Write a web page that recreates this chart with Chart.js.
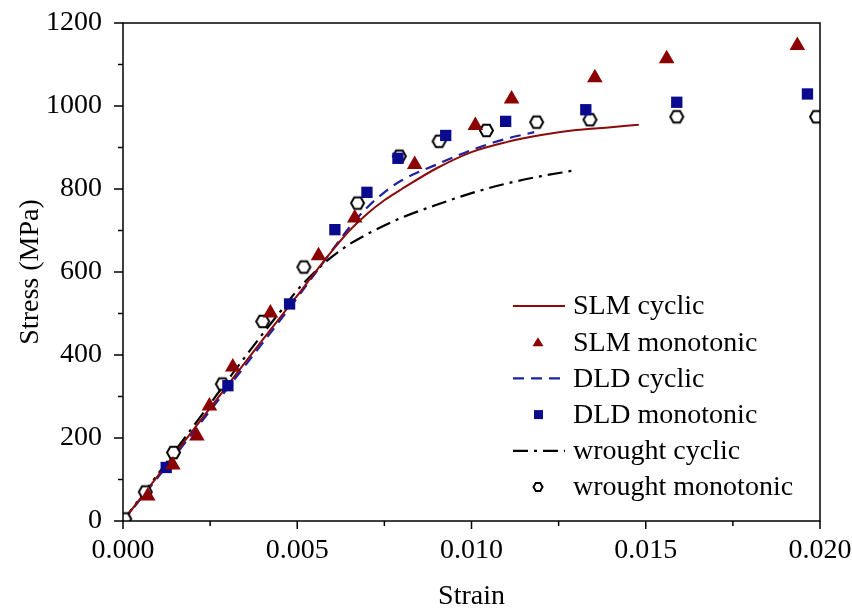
<!DOCTYPE html>
<html>
<head>
<meta charset="utf-8">
<title>Stress-strain curves</title>
<script src="https://cdn.jsdelivr.net/npm/chart.js@4.4.1/dist/chart.umd.min.js"></script>
<style>
  html, body { margin: 0; padding: 0; background: #fff; }
  #wrap { width: 852px; height: 613px; }
</style>
</head>
<body>
<div id="wrap"><canvas id="chart" width="852" height="613"></canvas></div>
<script>
// cyclic curves (strain, stress in MPa)
const slmCyclicStrain = [0, 0.001, 0.002, 0.003, 0.004, 0.005, 0.0055, 0.006, 0.0065, 0.007, 0.0075, 0.008, 0.009, 0.010, 0.011, 0.012, 0.013, 0.014, 0.0148];
const slmCyclicStress = [0, 109, 218, 327, 436, 543, 598, 651, 700, 740, 773, 800, 850, 889, 913, 930, 942, 949, 955];

const dldCyclicStrain = [0, 0.001, 0.002, 0.003, 0.004, 0.005, 0.0055, 0.006, 0.0065, 0.007, 0.0075, 0.008, 0.009, 0.010, 0.011, 0.0118];
const dldCyclicStress = [0, 105, 212, 320, 428, 538, 595, 652, 708, 755, 792, 821, 859, 894, 921, 937];

const wroughtCyclicStrain = [0, 0.001, 0.002, 0.003, 0.004, 0.0045, 0.005, 0.0055, 0.006, 0.0065, 0.007, 0.0075, 0.008, 0.009, 0.010, 0.011, 0.012, 0.0129];
const wroughtCyclicStress = [0, 113, 226, 339, 450, 503, 556, 600, 637, 667, 691, 712, 731, 762, 790, 813, 831, 844];

// monotonic test points
const slmMonoStrain = [0.00071, 0.00143, 0.00212, 0.00248, 0.00315, 0.00423, 0.00561, 0.00665, 0.00837, 0.01011, 0.01115, 0.01354, 0.0156, 0.01935];
const slmMonoStress = [60, 135, 205, 277, 371, 501, 639, 730, 859, 953, 1017, 1068, 1114, 1146];

const dldMonoStrain = [0.00124, 0.00301, 0.00478, 0.00608, 0.0070, 0.00789, 0.00926, 0.01098, 0.01328, 0.01589, 0.01964];
const dldMonoStress = [129, 326, 523, 702, 792, 874, 929, 963, 991, 1009, 1029];

const wroughtMonoStrain = [0.00005, 0.00064, 0.00145, 0.00285, 0.00401, 0.00519, 0.00673, 0.00793, 0.00907, 0.01043, 0.01187, 0.0134, 0.01589, 0.0199];
const wroughtMonoStress = [5, 70, 165, 330, 481, 612, 766, 879, 915, 941, 961, 967, 974, 974];

// axis ticks
const xMajorTicks = [0, 0.005, 0.010, 0.015, 0.020];
const yMajorTicks = [0, 200, 400, 600, 800, 1000, 1200];

const FONT = "'Liberation Serif', 'Times New Roman', serif";
const RED = "#8b0a0a";
const BLUE = "#0a0a8f";

function toPoints(xs, ys) {
  return xs.map((x, i) => ({ x: x, y: ys[i] }));
}

// hexagon marker (flat top)
function hexPath(ctx, x, y, r) {
  ctx.beginPath();
  for (let i = 0; i < 6; i++) {
    const a = Math.PI / 3 * i;
    const px = x + r * Math.cos(a);
    const py = y + r * Math.sin(a);
    if (i === 0) ctx.moveTo(px, py); else ctx.lineTo(px, py);
  }
  ctx.closePath();
}

function makeHex(r, lw) {
  const c = document.createElement("canvas");
  const s = Math.ceil(2 * r + lw + 2);
  c.width = s;
  c.height = s;
  const g = c.getContext("2d");
  hexPath(g, s / 2, s / 2, r);
  g.fillStyle = "#fff";
  g.fill();
  g.lineWidth = lw;
  g.strokeStyle = "#000";
  g.stroke();
  return c;
}
const hexImg = makeHex(6.5, 2);

// frame box and outward ticks (major + minor)
const frameTicks = {
  id: "frameTicks",
  afterDraw(chart) {
    const { ctx, chartArea: a } = chart;
    const xs = chart.scales.x;
    const ys = chart.scales.y;
    ctx.save();
    ctx.strokeStyle = "#000";
    ctx.lineWidth = 1.5;
    ctx.strokeRect(a.left, a.top, a.right - a.left, a.bottom - a.top);
    ctx.beginPath();
    xMajorTicks.forEach((v, i) => {
      const px = xs.getPixelForValue(v);
      ctx.moveTo(px, a.bottom);
      ctx.lineTo(px, a.bottom + 8);
      if (i < xMajorTicks.length - 1) {
        const mx = xs.getPixelForValue((v + xMajorTicks[i + 1]) / 2);
        ctx.moveTo(mx, a.bottom);
        ctx.lineTo(mx, a.bottom + 5);
      }
    });
    yMajorTicks.forEach((v, i) => {
      const py = ys.getPixelForValue(v);
      ctx.moveTo(a.left, py);
      ctx.lineTo(a.left - 9, py);
      if (i < yMajorTicks.length - 1) {
        const my = ys.getPixelForValue((v + yMajorTicks[i + 1]) / 2);
        ctx.moveTo(a.left, my);
        ctx.lineTo(a.left - 5, my);
      }
    });
    ctx.stroke();
    ctx.restore();
  }
};

// legend drawn inside the plot, lower right
const innerLegend = {
  id: "innerLegend",
  afterDraw(chart) {
    const ctx = chart.ctx;
    const x0 = 513, x1 = 565, tx = 573, y0 = 306, dy = 36.2;
    ctx.save();
    ctx.font = "28px " + FONT;
    ctx.textBaseline = "middle";
    ctx.fillStyle = "#000";
    chart.data.datasets.forEach((ds, i) => {
      const y = y0 + i * dy;
      const cx = (x0 + x1) / 2;
      if (ds.showLine) {
        ctx.save();
        ctx.strokeStyle = ds.borderColor;
        ctx.lineWidth = ds.borderWidth;
        ctx.setLineDash(ds.borderDash || []);
        ctx.beginPath();
        ctx.moveTo(x0, y);
        ctx.lineTo(x1, y);
        ctx.stroke();
        ctx.restore();
      } else if (ds.pointStyle === "triangle") {
        ctx.save();
        ctx.fillStyle = ds.pointBackgroundColor;
        ctx.beginPath();
        ctx.moveTo(cx - 1, y - 5);
        ctx.lineTo(cx + 4.5, y + 4);
        ctx.lineTo(cx - 6.5, y + 4);
        ctx.closePath();
        ctx.fill();
        ctx.restore();
      } else if (ds.pointStyle === "rect") {
        ctx.save();
        ctx.fillStyle = ds.pointBackgroundColor;
        ctx.fillRect(cx - 5, y - 4.5, 9, 9);
        ctx.restore();
      } else {
        ctx.save();
        hexPath(ctx, cx - 1, y, 4.5);
        ctx.fillStyle = "#fff";
        ctx.fill();
        ctx.lineWidth = 2;
        ctx.strokeStyle = "#000";
        ctx.stroke();
        ctx.restore();
      }
      ctx.fillText(ds.label, tx, y + 1);
    });
    ctx.restore();
  }
};

const lineBase = { showLine: true, pointRadius: 0, cubicInterpolationMode: "monotone", fill: false, order: 2 };
const markBase = { showLine: false, pointBorderWidth: 0, clip: 0, order: 1 };

new Chart(document.getElementById("chart"), {
  type: "scatter",
  data: {
    datasets: [
      Object.assign({}, lineBase, {
        label: "SLM cyclic",
        data: toPoints(slmCyclicStrain, slmCyclicStress),
        borderColor: RED, borderWidth: 2
      }),
      Object.assign({}, markBase, {
        label: "SLM monotonic",
        data: toPoints(slmMonoStrain, slmMonoStress),
        pointStyle: "triangle", pointRadius: 9,
        pointBackgroundColor: "#8b0000", pointBorderColor: "#8b0000"
      }),
      Object.assign({}, lineBase, {
        label: "DLD cyclic",
        data: toPoints(dldCyclicStrain, dldCyclicStress),
        borderColor: "#1c22a0", borderWidth: 2.2, borderDash: [11, 7]
      }),
      Object.assign({}, markBase, {
        label: "DLD monotonic",
        data: toPoints(dldMonoStrain, dldMonoStress),
        pointStyle: "rect", pointRadius: 8,
        pointBackgroundColor: BLUE, pointBorderColor: BLUE
      }),
      Object.assign({}, lineBase, {
        label: "wrought cyclic",
        data: toPoints(wroughtCyclicStrain, wroughtCyclicStress),
        borderColor: "#000", borderWidth: 2.2, borderDash: [15, 6, 3, 6]
      }),
      Object.assign({}, markBase, {
        label: "wrought monotonic",
        data: toPoints(wroughtMonoStrain, wroughtMonoStress),
        pointStyle: hexImg, pointRadius: 7
      })
    ]
  },
  options: {
    responsive: false,
    animation: false,
    devicePixelRatio: 1,
    layout: { padding: { left: 0, top: 23, right: 32, bottom: 0 } },
    plugins: {
      legend: { display: false },
      tooltip: { enabled: false }
    },
    scales: {
      x: {
        type: "linear",
        min: 0,
        max: 0.02,
        grid: { display: false },
        border: { display: false },
        ticks: {
          stepSize: 0.005,
          padding: 5,
          color: "#000",
          font: { family: FONT, size: 28 },
          maxRotation: 0,
          callback: (v) => Number(v).toFixed(3)
        },
        title: {
          display: true,
          text: "Strain",
          color: "#000",
          font: { family: FONT, size: 28 },
          padding: { top: 0, bottom: 0 }
        },
        afterFit(scale) {
          scale.height = 92;
          scale.paddingLeft = 0;
          scale.paddingRight = 0;
        }
      },
      y: {
        type: "linear",
        min: 0,
        max: 1200,
        grid: { display: false },
        border: { display: false },
        ticks: {
          stepSize: 200,
          padding: 13,
          color: "#000",
          font: { family: FONT, size: 28 },
          callback: (v) => String(v)
        },
        title: {
          display: true,
          text: "Stress (MPa)",
          color: "#000",
          font: { family: FONT, size: 28 },
          padding: { top: 14, bottom: 0 }
        },
        afterFit(scale) {
          scale.width = 123;
          scale.paddingTop = 0;
          scale.paddingBottom = 0;
        }
      }
    }
  },
  plugins: [frameTicks, innerLegend]
});
</script>
</body>
</html>
